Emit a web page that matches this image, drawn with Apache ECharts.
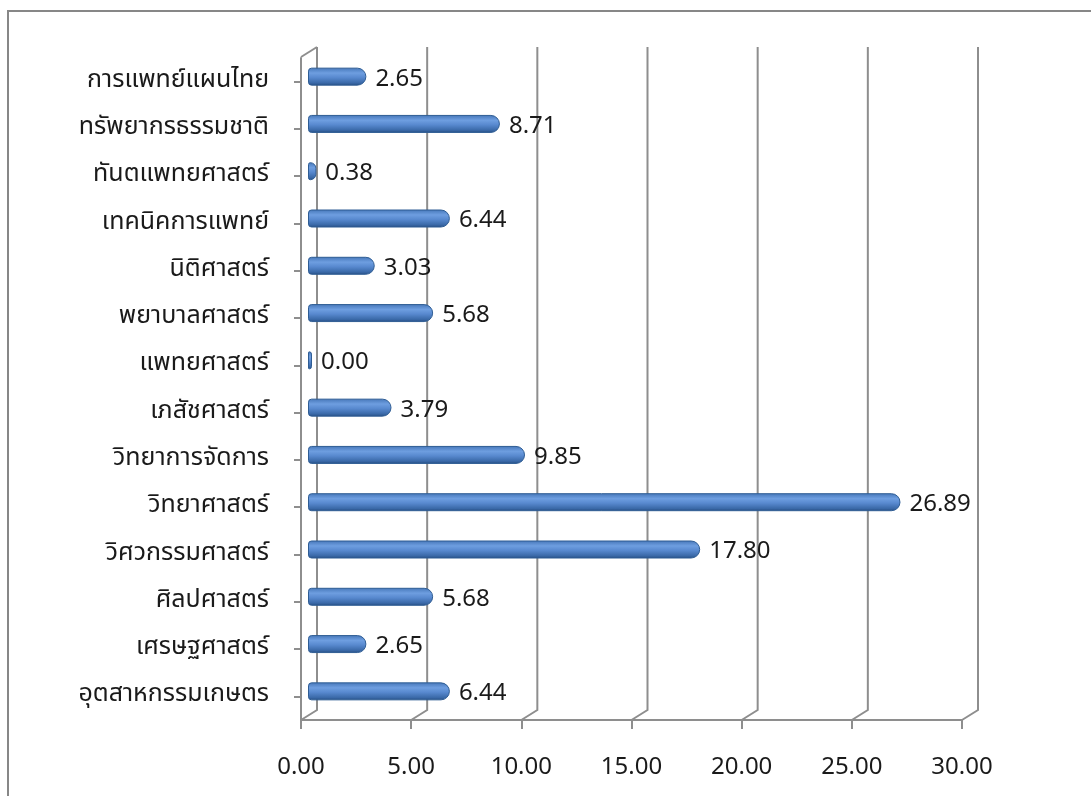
<!DOCTYPE html>
<html>
<head>
<meta charset="utf-8">
<script src="https://cdn.jsdelivr.net/npm/echarts@6/dist/echarts.min.js"></script>
<style>
  html, body { margin: 0; padding: 0; background: #fff; }
  #frame { position: absolute; left: 7px; top: 10px; width: 1200px; height: 900px;
           border-left: 2px solid #878787; border-top: 2px solid #878787; }
  #main { position: absolute; left: 0; top: 0; width: 1091px; height: 796px; }
</style>
</head>
<body>
<div id="frame"></div>
<div id="main"></div>
<script>
// categories listed top to bottom
var faculties = [
  'การแพทย์แผนไทย', 'ทรัพยากรธรรมชาติ', 'ทันตแพทยศาสตร์', 'เทคนิคการแพทย์',
  'นิติศาสตร์', 'พยาบาลศาสตร์', 'แพทยศาสตร์', 'เภสัชศาสตร์',
  'วิทยาการจัดการ', 'วิทยาศาสตร์', 'วิศวกรรมศาสตร์', 'ศิลปศาสตร์',
  'เศรษฐศาสตร์', 'อุตสาหกรรมเกษตร'
];
var percents = [2.65, 8.71, 0.38, 6.44, 3.03, 5.68, 0.00, 3.79, 9.85, 26.89, 17.80, 5.68, 2.65, 6.44];
var tickValues = [0, 5, 10, 15, 20, 25, 30];

var FONT = '"Noto Sans Thai", "Noto Sans", "DejaVu Sans", sans-serif';
var GRAY = '#8e8e8e';
var DX = 16, DY = 10; // depth of the fake 3D walls

var chart = echarts.init(document.getElementById('main'));

var option = {
  animation: false,
  grid: [
    { left: 301, right: 129, top: 58, bottom: 76 },
    { left: 308, right: 122, top: 53, bottom: 81 }
  ],
  xAxis: [
    {
      gridIndex: 0, type: 'value', min: 0, max: 30, interval: 5,
      axisLine: { show: true, lineStyle: { color: GRAY, width: 2 } },
      axisTick: { show: true, length: 9, lineStyle: { color: GRAY, width: 2 } },
      axisLabel: { margin: 37, fontSize: 24, color: '#1a1a1a', fontFamily: FONT,
        formatter: function (v) { return v.toFixed(2); } },
      splitLine: { show: false }
    },
    {
      gridIndex: 1, type: 'value', min: 0, max: 30, interval: 5, show: false
    }
  ],
  yAxis: [
    {
      gridIndex: 0, type: 'category', data: faculties, inverse: true,
      axisLine: { show: true, lineStyle: { color: GRAY, width: 2 } },
      axisTick: { show: true, alignWithLabel: true, length: 7, lineStyle: { color: GRAY, width: 2 } },
      axisLabel: { margin: 32, fontSize: 25, color: '#1a1a1a', fontFamily: FONT }
    },
    {
      gridIndex: 1, type: 'category', data: faculties, inverse: true, show: false
    }
  ],
  series: [
    {
      // back wall gridlines and floor edges
      type: 'custom',
      xAxisIndex: 0, yAxisIndex: 0,
      data: tickValues,
      silent: true,
      z: 1,
      renderItem: function (params, api) {
        var cs = params.coordSys;
        var x = api.coord([api.value(0), 0])[0];
        var yb = cs.y + cs.height;
        var pts = [[x, yb], [x + DX, yb - DY], [x + DX, cs.y - DY - 1]];
        var children = [{
          type: 'polyline',
          shape: { points: pts },
          style: { stroke: GRAY, lineWidth: 2, fill: null }
        }];
        if (api.value(0) === 0) {
          children.push({
            type: 'line',
            shape: { x1: x, y1: cs.y - 1, x2: x + DX, y2: cs.y - DY - 1 },
            style: { stroke: GRAY, lineWidth: 2 }
          });
        }
        return { type: 'group', children: children };
      }
    },
    {
      type: 'bar',
      xAxisIndex: 1, yAxisIndex: 1,
      data: percents,
      barWidth: 18,
      barMinHeight: 4,
      z: 3,
      itemStyle: {
        borderRadius: [3, 9, 9, 3],
        borderColor: '#2f5d94',
        borderWidth: 1,
        color: new echarts.graphic.LinearGradient(0, 0, 0, 1, [
          { offset: 0, color: '#4576b8' },
          { offset: 0.3, color: '#6e9ee0' },
          { offset: 0.55, color: '#5889cf' },
          { offset: 0.85, color: '#3a69a8' },
          { offset: 1, color: '#264c80' }
        ])
      },
      label: {
        show: true, position: 'right', distance: 9, offset: [0, 4],
        fontSize: 24, color: '#1a1a1a', fontFamily: FONT,
        formatter: function (p) { return p.value.toFixed(2); }
      }
    }
  ]
};

chart.setOption(option);
</script>
</body>
</html>
